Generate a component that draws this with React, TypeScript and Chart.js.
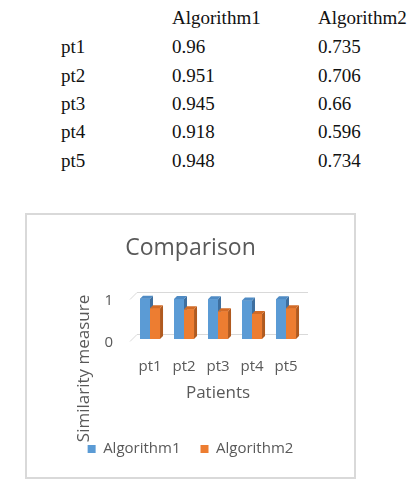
import React, { useEffect, useRef } from "react";
import { Chart, registerables } from "chart.js";

Chart.register(...registerables);

const patients = ["pt1", "pt2", "pt3", "pt4", "pt5"];
const seriesNames = ["Algorithm1", "Algorithm2"];
const algorithm1 = [0.96, 0.951, 0.945, 0.918, 0.948];
const algorithm2 = [0.735, 0.706, 0.66, 0.596, 0.734];
const algorithm1Text = ["0.96", "0.951", "0.945", "0.918", "0.948"];
const algorithm2Text = ["0.735", "0.706", "0.66", "0.596", "0.734"];
const yTickValues = [0, 1];
const chartTitle = "Comparison";
const xAxisTitle = "Patients";
const yAxisTitle = "Similarity measure";

const SANS = '"Open Sans", "Noto Sans", sans-serif';
const SERIF = '"Liberation Serif", "Times New Roman", serif';
const TEXT = "#595959";
const FRONT = ["#5b9bd5", "#ed7d31"];
const SIDE = ["#3e6f9f", "#b05a1f"];
const TOP = ["#4f8bc4", "#d26b27"];
const DEPTH = 3;

const bar3d = {
  id: "bar3d",
  beforeDatasetsDraw(chart: any) {
    const { ctx, chartArea, scales } = chart;
    const y = scales.y;
    ctx.save();
    ctx.strokeStyle = "#d9d9d9";
    ctx.lineWidth = 1;
    y.ticks.forEach((t: any) => {
      const py = Math.round(y.getPixelForValue(t.value)) + 0.5;
      ctx.beginPath();
      ctx.moveTo(chartArea.left - 3, py + 2);
      ctx.lineTo(chartArea.left + 4, py - 5);
      ctx.lineTo(chartArea.right + 5, py - 5);
      ctx.stroke();
    });
    ctx.restore();
  },
  afterDatasetsDraw(chart: any) {
    const { ctx } = chart;
    ctx.save();
    chart.data.datasets.forEach((_d: any, i: number) => {
      const meta = chart.getDatasetMeta(i);
      meta.data.forEach((el: any) => {
        el.draw(ctx);
        const l = el.x - el.width / 2;
        const r = el.x + el.width / 2;
        const top = el.y;
        const base = el.base;
        ctx.fillStyle = SIDE[i];
        ctx.beginPath();
        ctx.moveTo(r, top);
        ctx.lineTo(r + DEPTH, top - DEPTH);
        ctx.lineTo(r + DEPTH, base - DEPTH);
        ctx.lineTo(r, base);
        ctx.closePath();
        ctx.fill();
        ctx.fillStyle = TOP[i];
        ctx.beginPath();
        ctx.moveTo(l, top);
        ctx.lineTo(l + DEPTH, top - DEPTH);
        ctx.lineTo(r + DEPTH, top - DEPTH);
        ctx.lineTo(r, top);
        ctx.closePath();
        ctx.fill();
      });
    });
    ctx.restore();
  },
};

const yTitlePlugin = {
  id: "yTitle",
  afterDraw(chart: any) {
    const { ctx } = chart;
    ctx.save();
    ctx.translate(57, 153.5);
    ctx.rotate(-Math.PI / 2);
    ctx.font = `17px ${SANS}`;
    ctx.fillStyle = TEXT;
    ctx.textAlign = "center";
    ctx.textBaseline = "middle";
    ctx.fillText(yAxisTitle, 0, 0);
    ctx.restore();
  },
};

function DataTable() {
  const cell = (text: string, x: number, baseline: number, key: string) => (
    <div
      key={key}
      style={{
        position: "absolute",
        left: x,
        top: baseline - 16,
        fontFamily: SERIF,
        fontSize: 19,
        lineHeight: "19px",
        color: "#111",
        whiteSpace: "nowrap",
      }}
    >
      {text}
    </div>
  );
  const rowBase = [52.7, 81.7, 110, 138.3, 166.7];
  return (
    <>
      {cell(seriesNames[0], 172, 24, "h1")}
      {cell(seriesNames[1], 318, 24, "h2")}
      {patients.map((p, i) => (
        <React.Fragment key={p}>
          {cell(p, 61, rowBase[i], p + "a")}
          {cell(algorithm1Text[i], 172, rowBase[i], p + "b")}
          {cell(algorithm2Text[i], 318, rowBase[i], p + "c")}
        </React.Fragment>
      ))}
    </>
  );
}

export default function App() {
  const ref = useRef<HTMLCanvasElement | null>(null);

  useEffect(() => {
    if (!ref.current) return;
    const chart = new Chart(ref.current, {
      type: "bar",
      data: {
        labels: patients,
        datasets: [
          {
            label: seriesNames[0],
            data: algorithm1,
            backgroundColor: FRONT[0],
            borderWidth: 0,
            categoryPercentage: 0.59,
            barPercentage: 1,
          },
          {
            label: seriesNames[1],
            data: algorithm2,
            backgroundColor: FRONT[1],
            borderWidth: 0,
            categoryPercentage: 0.59,
            barPercentage: 1,
          },
        ],
      },
      options: {
        responsive: false,
        animation: false,
        layout: { padding: { top: 0, left: 0, right: 0, bottom: 10.5 } },
        plugins: {
          tooltip: { enabled: false },
          title: {
            display: true,
            text: chartTitle,
            color: TEXT,
            font: { size: 23, weight: "normal", family: SANS },
            padding: { top: 20, bottom: 34.4 },
          },
          legend: {
            position: "bottom",
            labels: {
              boxWidth: 8,
              boxHeight: 8,
              padding: 20,
              color: TEXT,
              font: { size: 15, family: SANS },
            },
          },
        },
        scales: {
          x: {
            grid: { display: false, drawTicks: false },
            border: { display: false },
            ticks: { padding: 19, color: TEXT, font: { size: 15, family: SANS } },
            title: {
              display: true,
              text: xAxisTitle,
              color: TEXT,
              font: { size: 17, family: SANS },
              padding: { top: -12.2, bottom: 18.3 },
            },
          },
          y: {
            min: yTickValues[0],
            max: yTickValues[yTickValues.length - 1],
            afterBuildTicks: (s: any) => {
              s.ticks = yTickValues.map((v) => ({ value: v }));
            },
            grid: { display: false, drawTicks: false },
            border: { display: false },
            ticks: {
              padding: 20,
              labelOffset: 4,
              color: TEXT,
              font: { size: 15, family: SANS },
            },
            afterFit: (s: any) => {
              s.width = 106;
            },
          },
          y2: {
            position: "right",
            grid: { display: false, drawTicks: false },
            border: { display: false },
            ticks: { display: false },
            afterFit: (s: any) => {
              s.width = 51;
            },
          },
        },
      },
      plugins: [bar3d, yTitlePlugin],
    } as any);
    return () => chart.destroy();
  }, []);

  return (
    <div
      style={{
        position: "fixed",
        left: 0,
        top: 0,
        width: 417,
        height: 479,
        background: "#fff",
        overflow: "hidden",
      }}
    >
      <DataTable />
      <div
        style={{
          position: "absolute",
          left: 25,
          top: 213,
          width: 331,
          height: 266,
          boxSizing: "border-box",
          border: "2px solid #d9d9d9",
        }}
      >
        <canvas ref={ref} width={327} height={262} style={{ display: "block" }} />
      </div>
    </div>
  );
}
